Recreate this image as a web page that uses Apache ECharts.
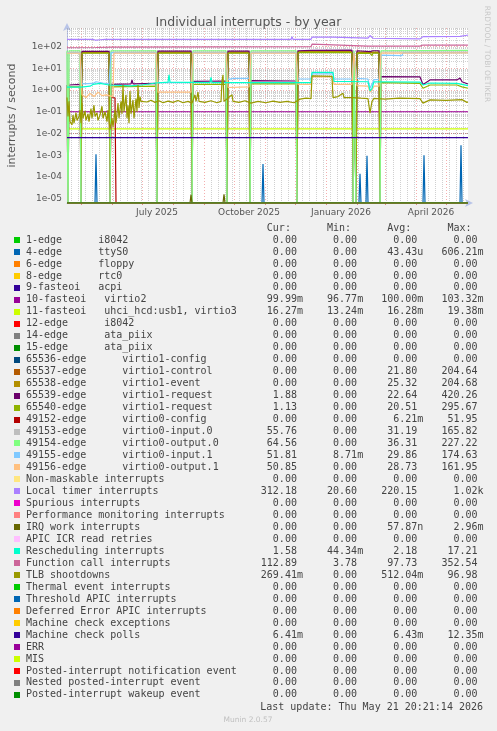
<!DOCTYPE html>
<html><head><meta charset="utf-8">
<script src="https://cdn.jsdelivr.net/npm/echarts@6/dist/echarts.min.js"></script>
<style>html,body{margin:0;padding:0;background:#f0f0f0}#c{width:497px;height:731px}</style>
</head><body><div id="c"></div><script>
// ---------- axis / tick data ----------
const startDay = '2025-04-17';
const dayCount = 402;
const monthNames = ['January','February','March','April','May','June','July','August','September','October','November','December'];
const yMinExp = -5.198, yMaxExp = 2.852;

// ---------- series data ([date, interrupts/second]) ----------
const zeroLine = [['2025-04-17',0],['2026-05-23',0]];
const irq4 = [['2025-04-17',0],['2025-05-15',0],['2025-05-16',0.0011],['2025-05-17',0],['2025-10-29',0],['2025-10-30',0.00039],['2025-10-31',0],['2026-02-03',0],['2026-02-04',0.00014],['2026-02-05',0],['2026-02-10',0],['2026-02-11',0.00094],['2026-02-12',0],['2026-04-08',0],['2026-04-09',0.001],['2026-04-10',0],['2026-05-15',0],['2026-05-16',0.0029],['2026-05-17',0],['2026-05-23',0]];
const irq10 = [['2025-04-17',0.1],['2026-05-23',0.1]];
const irq11 = [['2025-04-17',0.0163],['2026-05-23',0.0163]];
const v1control = [['2025-04-17',0],['2025-05-01',0],['2025-05-02',52],['2025-05-29',52],['2025-05-30',0],['2025-07-16',0],['2025-07-17',52],['2025-08-19',52],['2025-08-20',0],['2025-09-24',0],['2025-09-25',52],['2025-10-16',52],['2025-10-17',0],['2025-12-03',0],['2025-12-04',54],['2026-01-27',54],['2026-01-28',0],['2026-01-31',0],['2026-02-01',52],['2026-02-23',52],['2026-02-24',0],['2026-05-23',0]];
const v1event = [['2025-04-17',0],['2025-05-01',0],['2025-05-02',56],['2025-05-29',56],['2025-05-30',0],['2025-07-16',0],['2025-07-17',56],['2025-08-19',56],['2025-08-20',0],['2025-09-24',0],['2025-09-25',56],['2025-10-16',56],['2025-10-17',0],['2025-12-03',0],['2025-12-04',58],['2026-01-27',58],['2026-01-28',0],['2026-01-31',0],['2026-02-01',56],['2026-02-23',56],['2026-02-24',0],['2026-05-23',0]];
const v1request = [['2025-04-17',1.7],['2025-04-18',0],['2025-04-19',1.7],['2025-04-30',1.8],['2025-05-01',0],['2025-05-02',60],['2025-05-29',60],['2025-05-30',0],['2025-05-31',1.8],['2025-06-20',1.9],['2025-06-21',2.9],['2025-06-22',1.9],['2025-07-15',2.0],['2025-07-16',0],['2025-07-17',62],['2025-08-19',62],['2025-08-20',0],['2025-08-21',2.5],['2025-09-23',2.6],['2025-09-24',0],['2025-09-25',62],['2025-10-16',62],['2025-10-17',0],['2025-10-18',2.7],['2025-12-02',2.6],['2025-12-03',0],['2025-12-04',64],['2025-12-17',66],['2025-12-18',70],['2026-01-27',68],['2026-01-28',0],['2026-01-29',2.6],['2026-01-30',2.6],['2026-01-31',0],['2026-02-01',64],['2026-02-14',58],['2026-02-16',50],['2026-02-17',64],['2026-02-23',64],['2026-02-24',0],['2026-02-25',4.1],['2026-04-05',4.0],['2026-04-08',1.8],['2026-04-15',2.9],['2026-05-12',2.9],['2026-05-15',3.6],['2026-05-17',2.4],['2026-05-23',1.9]];
const v1request2 = [['2025-04-17',1.4],['2025-04-18',0],['2025-04-19',1.4],['2025-04-30',1.4],['2025-05-01',0],['2025-05-02',50],['2025-05-29',50],['2025-05-30',0],['2025-05-31',1.4],['2025-07-15',1.5],['2025-07-16',0],['2025-07-17',50],['2025-08-19',50],['2025-08-20',0],['2025-08-21',1.8],['2025-09-23',1.8],['2025-09-24',0],['2025-09-25',50],['2025-10-16',50],['2025-10-17',0],['2025-10-18',1.9],['2025-12-02',1.9],['2025-12-03',0],['2025-12-04',52],['2026-01-27',52],['2026-01-28',0],['2026-01-29',1.9],['2026-01-30',1.9],['2026-01-31',0],['2026-02-01',50],['2026-02-14',48],['2026-02-16',38],['2026-02-17',50],['2026-02-23',50],['2026-02-24',0],['2026-02-25',2.2],['2026-04-05',2.0],['2026-04-08',1.2],['2026-04-15',1.7],['2026-05-12',1.7],['2026-05-17',1.4],['2026-05-23',1.2]];
const v0config = [['2025-04-17',0],['2025-05-30',0],['2025-05-31',0.44],['2025-06-04',0.44],['2025-06-05',0],['2026-05-23',0]];
const v0input0 = [['2025-04-17',56],['2025-04-18',0],['2025-04-19',56],['2025-04-30',56],['2025-05-01',0],['2025-05-30',0],['2025-05-31',56],['2025-07-15',56],['2025-07-16',0],['2025-08-20',0],['2025-08-21',56],['2025-09-23',56],['2025-09-24',0],['2025-10-17',0],['2025-10-18',56],['2025-12-02',56],['2025-12-03',0],['2026-01-28',0],['2026-01-29',56],['2026-01-30',56],['2026-01-31',0],['2026-02-24',0],['2026-02-25',56],['2026-05-23',56]];
const v0output0 = [['2025-04-17',64],['2025-04-18',0],['2025-04-19',64],['2025-04-30',64],['2025-05-01',0],['2025-05-30',0],['2025-05-31',64],['2025-07-15',64],['2025-07-16',0],['2025-08-20',0],['2025-08-21',64],['2025-09-23',64],['2025-09-24',0],['2025-10-17',0],['2025-10-18',64],['2025-12-02',64],['2025-12-03',0],['2026-01-28',0],['2026-01-29',64],['2026-01-30',64],['2026-01-31',0],['2026-02-24',0],['2026-02-25',64],['2026-05-23',66]];
const v0input1 = [['2025-04-17',52],['2025-04-30',52],['2025-05-02',1.9],['2025-05-13',2.0],['2025-05-16',2.4],['2025-05-23',2.1],['2025-05-29',1.9],['2025-05-31',52],['2025-07-15',52],['2025-07-17',2.2],['2025-08-19',2.2],['2025-08-21',52],['2025-09-23',52],['2025-09-25',3.0],['2025-09-30',3.4],['2025-10-16',3.4],['2025-10-18',52],['2025-12-02',52],['2025-12-04',3.2],['2025-12-17',3.2],['2025-12-18',5.5],['2026-01-08',5.5],['2026-01-09',3.2],['2026-01-27',3.2],['2026-01-29',52],['2026-01-30',52],['2026-02-01',3.4],['2026-02-12',3.2],['2026-02-14',1.2],['2026-02-16',1.4],['2026-02-18',3.0],['2026-02-23',3.0],['2026-02-25',40],['2026-03-18',38],['2026-03-19',52],['2026-05-23',52]];
const v0output1 = [['2025-04-17',50],['2025-04-30',50],['2025-05-02',0.6],['2025-05-06',0.45],['2025-05-10',0.7],['2025-05-14',0.5],['2025-05-18',0.8],['2025-05-22',0.55],['2025-05-26',0.6],['2025-06-02',0.5],['2025-06-03',50],['2025-07-15',50],['2025-07-17',0.8],['2025-08-19',0.8],['2025-08-21',50],['2025-09-23',50],['2025-09-25',1.3],['2025-10-16',1.4],['2025-10-18',50],['2025-12-02',50],['2025-12-04',1.8],['2025-12-17',1.8],['2025-12-18',4.0],['2026-01-08',4.0],['2026-01-09',1.8],['2026-01-27',1.8],['2026-01-29',50],['2026-01-30',50],['2026-02-01',1.6],['2026-02-12',1.5],['2026-02-14',0.8],['2026-02-16',1.0],['2026-02-18',1.5],['2026-02-23',1.5],['2026-02-25',50],['2026-05-23',51]];
const localTimer = [['2025-04-17',214],['2025-05-13',212],['2025-05-16',195],['2025-05-20',205],['2025-05-25',214],['2025-07-27',214],['2025-07-28',255],['2025-07-29',214],['2025-11-27',212],['2025-11-28',280],['2025-11-29',214],['2025-12-17',214],['2025-12-18',270],['2026-01-08',268],['2026-01-09',245],['2026-02-12',242],['2026-02-14',320],['2026-02-17',240],['2026-04-05',225],['2026-04-08',285],['2026-05-15',292],['2026-05-22',330],['2026-05-23',335]];
const irqWork = [['2025-04-17',0],['2025-08-18',0],['2025-08-19',1.5e-5],['2025-08-20',0],['2025-09-20',0],['2025-09-21',1.6e-5],['2025-09-22',0],['2026-05-23',0]];
const resched = [['2025-04-17',1.35],['2025-05-01',1.35],['2025-05-10',1.5],['2025-05-13',1.8],['2025-05-20',2.0],['2025-05-29',1.7],['2025-05-31',1.5],['2025-06-20',1.55],['2025-07-01',1.7],['2025-07-15',2.1],['2025-07-27',2.3],['2025-07-28',5.0],['2025-07-29',2.3],['2025-09-07',2.2],['2025-09-08',3.8],['2025-09-09',2.2],['2025-10-17',2.2],['2025-11-29',2.2],['2025-12-17',2.2],['2025-12-18',6.5],['2026-01-08',6.5],['2026-01-09',2.5],['2026-02-12',2.4],['2026-02-14',0.9],['2026-02-16',1.2],['2026-02-18',2.4],['2026-04-05',2.3],['2026-04-08',1.7],['2026-04-15',2.1],['2026-05-12',2.0],['2026-05-23',1.6]];
const funcCall = [['2025-04-17',88],['2025-05-16',90],['2025-06-01',93],['2025-12-17',98],['2025-12-18',128],['2026-01-08',120],['2026-01-09',108],['2026-02-12',105],['2026-02-14',85],['2026-02-17',105],['2026-04-05',105],['2026-04-08',117],['2026-05-23',115]];
const tlb = [['2025-04-17',0.45],['2025-04-18',0.06],['2025-04-19',0.3],['2025-04-20',0.035],['2025-04-22',0.025],['2025-04-23',0.07],['2025-04-24',0.03],['2025-04-26',0.09],['2025-04-27',0.04],['2025-04-29',0.06],['2025-04-30',0.12],['2025-05-01',0.03],['2025-05-02',0.25],['2025-05-03',0.05],['2025-05-05',0.11],['2025-05-06',0.04],['2025-05-08',0.08],['2025-05-09',0.035],['2025-05-11',0.14],['2025-05-12',0.05],['2025-05-14',0.2],['2025-05-15',0.06],['2025-05-17',0.09],['2025-05-18',0.04],['2025-05-20',0.07],['2025-05-22',0.18],['2025-05-23',0.05],['2025-05-25',0.1],['2025-05-27',0.035],['2025-05-28',0.12],['2025-05-30',0.015],['2025-06-01',0.05],['2025-06-02',0.02],['2025-06-04',0.12],['2025-06-05',0.03],['2025-06-07',0.25],['2025-06-08',0.05],['2025-06-10',0.3],['2025-06-11',0.08],['2025-06-12',1.7],['2025-06-13',0.1],['2025-06-15',0.6],['2025-06-16',0.05],['2025-06-17',0.2],['2025-06-18',0.03],['2025-06-19',0.9],['2025-06-20',0.08],['2025-06-22',0.35],['2025-06-23',0.05],['2025-06-25',0.4],['2025-06-26',0.1],['2025-06-27',1.7],['2025-06-28',0.15],['2025-06-29',0.5],['2025-06-30',0.3],['2025-07-02',0.33],['2025-07-06',0.28],['2025-07-10',0.34],['2025-07-14',0.27],['2025-07-18',0.32],['2025-07-22',0.26],['2025-07-27',0.31],['2025-08-01',0.27],['2025-08-06',0.33],['2025-08-11',0.26],['2025-08-16',0.3],['2025-08-20',0.25],['2025-08-23',0.6],['2025-08-24',0.3],['2025-08-26',0.8],['2025-08-27',0.3],['2025-09-02',0.27],['2025-09-08',0.32],['2025-09-14',0.26],['2025-09-18',0.3],['2025-09-19',2.5],['2025-09-20',5.0],['2025-09-21',0.3],['2025-09-29',0.6],['2025-09-30',0.3],['2025-10-06',0.27],['2025-10-12',0.32],['2025-10-18',0.25],['2025-10-25',0.3],['2025-11-02',0.26],['2025-11-09',0.31],['2025-11-16',0.27],['2025-11-23',0.3],['2025-11-30',0.26],['2025-12-06',0.38],['2025-12-12',0.42],['2025-12-17',0.4],['2025-12-18',4.5],['2026-01-07',4.2],['2026-01-08',0.45],['2026-01-13',0.5],['2026-01-18',0.7],['2026-01-19',0.45],['2026-01-27',0.45],['2026-02-05',0.42],['2026-02-12',0.4],['2026-02-14',0.085],['2026-02-16',0.3],['2026-02-18',0.41],['2026-03-01',0.38],['2026-03-15',0.42],['2026-04-05',0.4],['2026-04-08',0.25],['2026-04-15',0.35],['2026-05-01',0.33],['2026-05-17',0.36],['2026-05-22',0.27],['2026-05-23',0.28]];
const mcePolls = [['2025-04-17',0.0064],['2026-05-23',0.0064]];

// ---------- legend table ----------
const legendLabels = ['1-edge      i8042','4-edge      ttyS0','6-edge      floppy','8-edge      rtc0','9-fasteoi   acpi','10-fasteoi   virtio2','11-fasteoi   uhci_hcd:usb1, virtio3','12-edge      i8042','14-edge      ata_piix','15-edge      ata_piix','65536-edge      virtio1-config','65537-edge      virtio1-control','65538-edge      virtio1-event','65539-edge      virtio1-request','65540-edge      virtio1-request','49152-edge      virtio0-config','49153-edge      virtio0-input.0','49154-edge      virtio0-output.0','49155-edge      virtio0-input.1','49156-edge      virtio0-output.1','Non-maskable interrupts','Local timer interrupts','Spurious interrupts','Performance monitoring interrupts','IRQ work interrupts','APIC ICR read retries','Rescheduling interrupts','Function call interrupts','TLB shootdowns','Thermal event interrupts','Threshold APIC interrupts','Deferred Error APIC interrupts','Machine check exceptions','Machine check polls','ERR','MIS','Posted-interrupt notification event','Nested posted-interrupt event','Posted-interrupt wakeup event'];
const legendColors = ['#00cc00','#0066b3','#ff8000','#ffcc00','#330099','#990099','#ccff00','#ff0000','#808080','#008f00','#00487d','#b35a00','#b38f00','#6b006b','#8fb300','#b30000','#bebebe','#80ff80','#80c9ff','#ffc080','#ffe680','#aa80ff','#ee00cc','#ff8080','#666600','#ffbfff','#00ffcc','#cc6699','#999900','#00cc00','#0066b3','#ff8000','#ffcc00','#330099','#990099','#ccff00','#ff0000','#808080','#008f00'];
const curValues = ['0.00','0.00','0.00','0.00','0.00','99.99m','16.27m','0.00','0.00','0.00','0.00','0.00','0.00','1.88','1.13','0.00','55.76','64.56','51.81','50.85','0.00','312.18','0.00','0.00','0.00','0.00','1.58','112.89','269.41m','0.00','0.00','0.00','0.00','6.41m','0.00','0.00','0.00','0.00','0.00'];
const minValues = ['0.00','0.00','0.00','0.00','0.00','96.77m','13.24m','0.00','0.00','0.00','0.00','0.00','0.00','0.00','0.00','0.00','0.00','0.00','8.71m','0.00','0.00','20.60','0.00','0.00','0.00','0.00','44.34m','3.78','0.00','0.00','0.00','0.00','0.00','0.00','0.00','0.00','0.00','0.00','0.00'];
const avgValues = ['0.00','43.43u','0.00','0.00','0.00','100.00m','16.28m','0.00','0.00','0.00','0.00','21.80','25.32','22.64','20.51','6.21m','31.19','36.31','29.86','28.73','0.00','220.15','0.00','0.00','57.87n','0.00','2.18','97.73','512.04m','0.00','0.00','0.00','0.00','6.43m','0.00','0.00','0.00','0.00','0.00'];
const maxValues = ['0.00','606.21m','0.00','0.00','0.00','103.32m','19.38m','0.00','0.00','0.00','0.00','204.64','204.68','420.26','295.67','51.95','165.82','227.22','174.63','161.95','0.00','1.02k','0.00','0.00','2.96m','0.00','17.21','352.54','96.98','0.00','0.00','0.00','0.00','12.35m','0.00','0.00','0.00','0.00','0.00'];
const seriesData = [zeroLine,irq4,zeroLine,zeroLine,zeroLine,irq10,irq11,zeroLine,zeroLine,zeroLine,zeroLine,v1control,v1event,v1request,v1request2,v0config,v0input0,v0output0,v0input1,v0output1,zeroLine,localTimer,zeroLine,zeroLine,irqWork,zeroLine,resched,funcCall,tlb,zeroLine,zeroLine,zeroLine,zeroLine,mcePolls,zeroLine,zeroLine,zeroLine,zeroLine,zeroLine];

// ---------- build ----------
const days = [];
const t0 = Date.UTC(2025,3,17);
for (let i = 0; i < dayCount; i++) days.push(new Date(t0 + i*86400000).toISOString().slice(0,10));
const yMin = Math.pow(10, yMinExp), yMax = Math.pow(10, yMaxExp);
const floorVal = yMin * 0.985;
const isMonthStart = (i, v) => v.slice(8,10) === '01';
const isWeekLine = (i, v) => new Date(v + 'T00:00:00Z').getUTCDay() === 1 && v.slice(8,10) !== '01';
const isLabelDay = (i, v) => v.slice(8,10) === '16' && ['01','04','07','10'].includes(v.slice(5,7));

const hLines = [];
for (let k = -6; k <= 2; k++) {
  for (let m = 1; m <= 9; m++) {
    const v = m * Math.pow(10, k);
    if (v < yMin || v > yMax) continue;
    hLines.push({yAxis: v, lineStyle: m === 1
      ? {color: 'rgba(235,110,110,0.55)', type: [1,2], width: 1}
      : {color: 'rgba(150,150,150,0.45)', type: [1,1], width: 1}});
  }
}

const series = legendLabels.map((name, i) => ({
  type: 'line', name: name, xAxisIndex: 0, yAxisIndex: 0,
  data: seriesData[i].map(p => [p[0], p[1] > 0 ? p[1] : floorVal]),
  symbol: 'none', showSymbol: false, clip: true, animation: false, silent: true,
  lineStyle: {color: legendColors[i], width: 1.2}, itemStyle: {color: legendColors[i]}, z: 3
}));
series[5].markLine = {silent: true, symbol: ['none','none'], label: {show: false}, animation: false, z: 1, data: hLines};

const mono = '10px "DejaVu Sans Mono"';
const fmtVal = s => { const m = s.match(/^([\d.]+)([a-zA-Z]?)$/); return m[1].padStart(9) + (m[2] || ' '); };
const graphics = [];
const rowY0 = 240, rowStep = 11.97;
graphics.push({type: 'text', style: {text: ' '.repeat(36) + ['Cur:','Min:','Avg:','Max:'].map(h => h.padStart(8) + '  ').join(''), x: 26, y: 228, font: mono, fill: '#444', verticalAlign: 'middle'}});
legendLabels.forEach((name, i) => {
  const y = rowY0 + i * rowStep;
  graphics.push({type: 'rect', shape: {x: 14, y: Math.round(y) - 3, width: 6, height: 6}, style: {fill: legendColors[i]}});
  graphics.push({type: 'text', style: {text: name.padEnd(36) + [curValues[i], minValues[i], avgValues[i], maxValues[i]].map(fmtVal).join(''), x: 26, y: y, font: mono, fill: '#444', verticalAlign: 'middle'}});
});
graphics.push({type: 'text', style: {text: 'Last update: Thu May 21 20:21:14 2026', x: 483, y: 707, font: mono, fill: '#444', align: 'right', verticalAlign: 'middle'}});
graphics.push({type: 'text', style: {text: 'Munin 2.0.57', x: 248, y: 720, font: '7.5px "DejaVu Sans"', fill: '#c0c0c0', align: 'center', verticalAlign: 'middle'}});
graphics.push({type: 'text', x: 487, y: 54, rotation: -Math.PI/2, style: {text: 'RRDTOOL / TOBI OETIKER', x: 0, y: 0, font: '7.5px "DejaVu Sans"', fill: '#c8c8c8', align: 'center', verticalAlign: 'middle'}});

const chart = echarts.init(document.getElementById('c'), null, {renderer: 'canvas', width: 497, height: 731});
chart.setOption({
  backgroundColor: '#f0f0f0',
  animation: false,
  title: {text: 'Individual interrupts - by year', left: 'center', top: 11,
    textStyle: {fontFamily: 'DejaVu Sans', fontSize: 12.5, fontWeight: 'normal', color: '#555'}},
  grid: {left: 67, top: 28, width: 401, height: 175, show: true, backgroundColor: '#ffffff', borderWidth: 0,
    containLabel: false, outerBoundsMode: 'none'},
  xAxis: [{
    type: 'category', data: days, boundaryGap: false,
    axisLine: {show: true, lineStyle: {color: '#b8c4e8', width: 1}, symbol: ['none','arrow'], symbolSize: [6,8], symbolOffset: [0,5]},
    axisTick: {show: true, interval: isMonthStart, length: 2, lineStyle: {color: 'rgba(220,90,90,0.7)'}},
    axisLabel: {show: true, interval: isLabelDay, margin: 5, fontFamily: 'DejaVu Sans', fontSize: 9, color: '#555',
      formatter: v => monthNames[+v.slice(5,7) - 1] + ' ' + v.slice(0,4)},
    splitLine: {show: true, interval: isMonthStart, lineStyle: {color: 'rgba(235,110,110,0.55)', type: [1,2], width: 1}}
  }, {
    type: 'category', data: days, boundaryGap: false, position: 'bottom',
    axisLine: {show: false}, axisTick: {show: false}, axisLabel: {show: false},
    splitLine: {show: true, interval: isWeekLine, lineStyle: {color: 'rgba(150,150,150,0.45)', type: [1,1], width: 1}}
  }],
  yAxis: {
    type: 'log', logBase: 10, min: yMin, max: yMax, splitNumber: 8,
    name: 'interrupts / second', nameLocation: 'middle', nameGap: 49, nameRotate: 90,
    nameTextStyle: {fontFamily: 'DejaVu Sans', fontSize: 11, color: '#555'},
    axisLine: {show: true, lineStyle: {color: '#b8c4e8', width: 1}, symbol: ['none','arrow'], symbolSize: [6,8], symbolOffset: [0,5]},
    axisTick: {show: false},
    splitLine: {show: false},
    axisLabel: {show: true, margin: 5, fontFamily: 'DejaVu Sans', fontSize: 9, color: '#555', showMinLabel: false, showMaxLabel: false,
      formatter: v => { const e = Math.round(Math.log10(v)); return '1e' + (e < 0 ? '-' : '+') + String(Math.abs(e)).padStart(2,'0'); }}
  },
  graphic: graphics,
  series: series
});
</script></body></html>
